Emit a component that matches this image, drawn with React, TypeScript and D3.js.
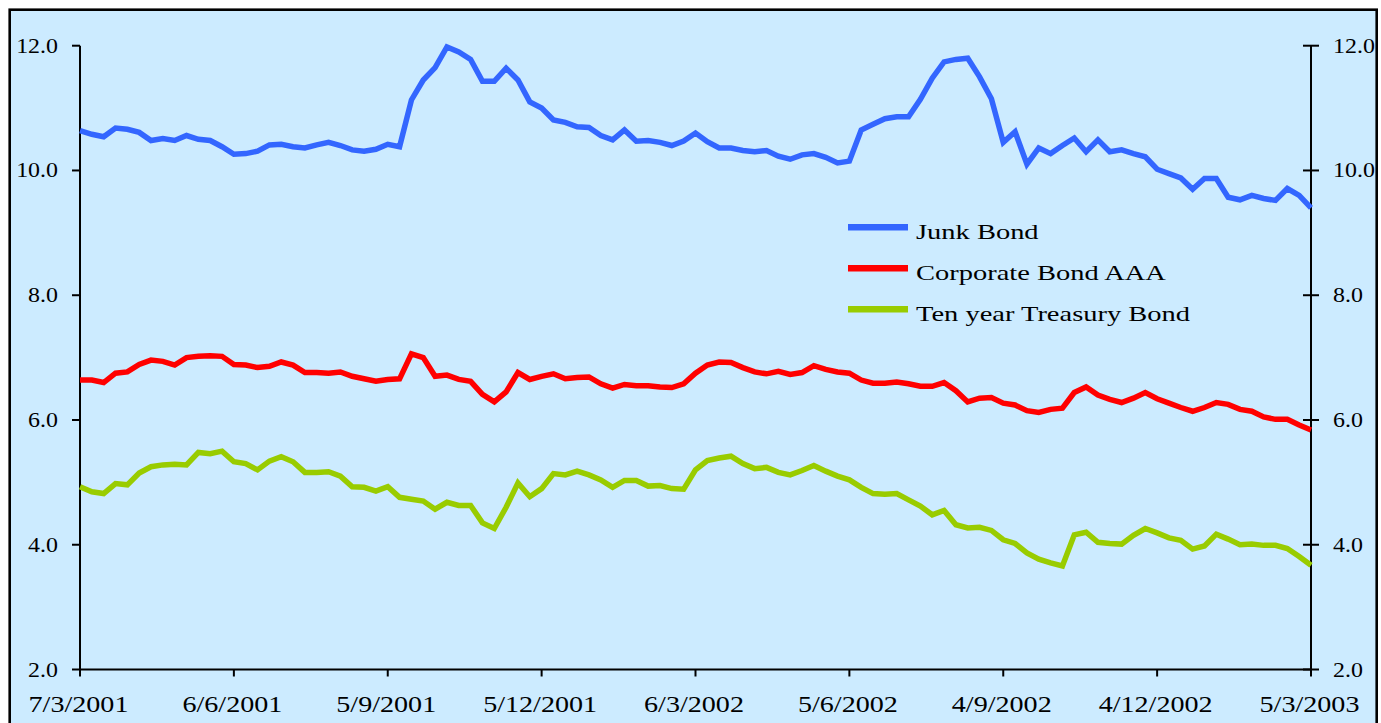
import React from 'react';
import * as d3 from 'd3';

// Weekly observations, 7/3/2001 .. 5/3/2003 (105 weeks)
const junkBond = [
  10.64, 10.58, 10.54, 10.68, 10.66, 10.61, 10.48, 10.51, 10.48, 10.56,
  10.50, 10.48, 10.38, 10.26, 10.27, 10.31, 10.41, 10.42, 10.38, 10.36,
  10.41, 10.45, 10.40, 10.33, 10.31, 10.34, 10.42, 10.38, 11.13, 11.45,
  11.65, 11.98, 11.90, 11.78, 11.43, 11.43, 11.64, 11.45, 11.10, 11.00,
  10.81, 10.77, 10.70, 10.69, 10.56, 10.49, 10.65, 10.47, 10.48, 10.45,
  10.40, 10.47, 10.60, 10.46, 10.36, 10.36, 10.32, 10.30, 10.32, 10.23,
  10.18, 10.25, 10.27, 10.21, 10.12, 10.15, 10.65, 10.74, 10.83, 10.86,
  10.86, 11.14, 11.48, 11.74, 11.78, 11.80, 11.50, 11.15, 10.45, 10.62,
  10.10, 10.36, 10.27, 10.40, 10.52, 10.30, 10.49, 10.30, 10.33, 10.27,
  10.22, 10.02, 9.95, 9.88, 9.70, 9.87, 9.87, 9.57, 9.53, 9.60,
  9.55, 9.52, 9.71, 9.60, 9.40,
];

const corporateAAA = [
  6.64, 6.64, 6.60, 6.75, 6.77, 6.89, 6.96, 6.94, 6.88, 7.00,
  7.02, 7.03, 7.02, 6.89, 6.88, 6.84, 6.86, 6.93, 6.88, 6.76,
  6.76, 6.75, 6.77, 6.70, 6.66, 6.62, 6.65, 6.66, 7.06, 7.00,
  6.70, 6.72, 6.65, 6.62, 6.41, 6.29, 6.45, 6.76, 6.65, 6.70,
  6.74, 6.66, 6.68, 6.69, 6.58, 6.51, 6.57, 6.55, 6.55, 6.53,
  6.52, 6.58, 6.75, 6.88, 6.93, 6.92, 6.84, 6.77, 6.74, 6.78,
  6.73, 6.76, 6.87, 6.81, 6.77, 6.75, 6.64, 6.59, 6.59, 6.61,
  6.58, 6.54, 6.54, 6.60, 6.47, 6.29, 6.35, 6.36, 6.27, 6.24,
  6.15, 6.12, 6.17, 6.19, 6.44, 6.53, 6.40, 6.33, 6.28, 6.35,
  6.44, 6.34, 6.27, 6.20, 6.14, 6.20, 6.28, 6.25, 6.17, 6.14,
  6.05, 6.01, 6.01, 5.92, 5.84,
];

const treasury10y = [
  4.93, 4.85, 4.82, 4.98, 4.96, 5.15, 5.25, 5.28, 5.29, 5.28,
  5.48, 5.46, 5.50, 5.33, 5.30, 5.20, 5.34, 5.41, 5.33, 5.16,
  5.16, 5.17, 5.10, 4.93, 4.92, 4.86, 4.93, 4.76, 4.73, 4.70,
  4.57, 4.68, 4.63, 4.63, 4.35, 4.26, 4.60, 4.99, 4.77, 4.90,
  5.14, 5.12, 5.18, 5.12, 5.04, 4.92, 5.03, 5.03, 4.94, 4.95,
  4.90, 4.89, 5.20, 5.35, 5.39, 5.42, 5.30, 5.22, 5.24, 5.16,
  5.12, 5.19, 5.27, 5.18, 5.10, 5.04, 4.92, 4.82, 4.81, 4.82,
  4.72, 4.62, 4.48, 4.55, 4.32, 4.27, 4.28, 4.23, 4.08, 4.02,
  3.87, 3.77, 3.71, 3.66, 4.16, 4.20, 4.04, 4.02, 4.01, 4.15,
  4.26, 4.19, 4.11, 4.07, 3.93, 3.98, 4.17, 4.09, 4.00, 4.01,
  3.99, 3.99, 3.94, 3.81, 3.67,
];

const dateLabels = ['7/3/2001', '6/6/2001', '5/9/2001', '5/12/2001', '6/3/2002', '5/6/2002', '4/9/2002', '4/12/2002', '5/3/2003'];
const dateLabelWeeks = [0, 13, 26, 39, 52, 65, 78, 91, 104];
const yTicks = [2, 4, 6, 8, 10, 12];

const seriesNames = ['Junk Bond', 'Corporate Bond AAA', 'Ten year Treasury Bond'];
const seriesColors = ['#3366FF', '#FF0000', '#99CC00'];

const W = 1381;
const H = 723;
const FONT = '"Liberation Serif", "Times New Roman", serif';

export default function App() {
  const x = d3.scaleLinear().domain([0, junkBond.length - 1]).range([80, 1311]);
  const y = d3.scaleLinear().domain([2, 12]).range([669.5, 45.7]);
  const line = d3
    .line<number>()
    .x((_, i) => x(i))
    .y((d) => y(d));
  const all = [junkBond, corporateAAA, treasury10y];

  const stretchText = (
    tx: number,
    ty: number,
    txt: string,
    sx: number,
    size: number,
    anchor: 'start' | 'middle' | 'end',
    key: string
  ) => (
    <g key={key} transform={`translate(${tx},${ty}) scale(${sx},1)`}>
      <text x={0} y={0} fontFamily={FONT} fontSize={size} fill="#000" textAnchor={anchor}>
        {txt}
      </text>
    </g>
  );

  return (
    <svg
      width={W}
      height={H}
      style={{ position: 'absolute', left: 0, top: 0, background: '#fff' }}
    >
      <rect x={9.7} y={9.7} width={1367} height={730} fill="#CCEBFF" stroke="#000" strokeWidth={2.6} />

      {/* axes */}
      <g stroke="#000" strokeWidth={2}>
        <line x1={x(0)} x2={x(0)} y1={y(12)} y2={y(2) + 1} />
        <line x1={x(104)} x2={x(104)} y1={y(12)} y2={y(2) + 1} />
        <line x1={x(0)} x2={x(104)} y1={y(2)} y2={y(2)} />
        {yTicks.map((t) => (
          <line key={'lt' + t} x1={x(0) - 8} x2={x(0)} y1={y(t)} y2={y(t)} />
        ))}
        {yTicks.map((t) => (
          <line key={'rt' + t} x1={x(104) - 8} x2={x(104) + 8} y1={y(t)} y2={y(t)} />
        ))}
        {dateLabelWeeks.map((w) => (
          <line key={'bt' + w} x1={x(w)} x2={x(w)} y1={y(2)} y2={y(2) + 7} />
        ))}
      </g>

      {/* tick labels */}
      {yTicks.map((t) => stretchText(58, y(t) + 7, t.toFixed(1), 1.14, 21, 'end', 'ly' + t))}
      {yTicks.map((t) => stretchText(1333, y(t) + 7, t.toFixed(1), 1.14, 21, 'start', 'ry' + t))}
      {dateLabels.map((d, i) =>
        stretchText(x(dateLabelWeeks[i]) - 1.5, 712, d, 1.25, 22.5, 'middle', 'xl' + i)
      )}

      {/* series */}
      {all.map((s, i) => (
        <path
          key={seriesNames[i]}
          d={line(s) || ''}
          fill="none"
          stroke={seriesColors[i]}
          strokeWidth={5.5}
          strokeLinejoin="miter"
        />
      ))}

      {/* legend */}
      {seriesNames.map((n, i) => (
        <g key={'lg' + i}>
          <line
            x1={848}
            x2={908}
            y1={227.3 + i * 41}
            y2={227.3 + i * 41}
            stroke={seriesColors[i]}
            strokeWidth={6.5}
          />
          {stretchText(916, 238.5 + i * 41, n, 1.295, 22, 'start', 'lt' + i)}
        </g>
      ))}
    </svg>
  );
}
